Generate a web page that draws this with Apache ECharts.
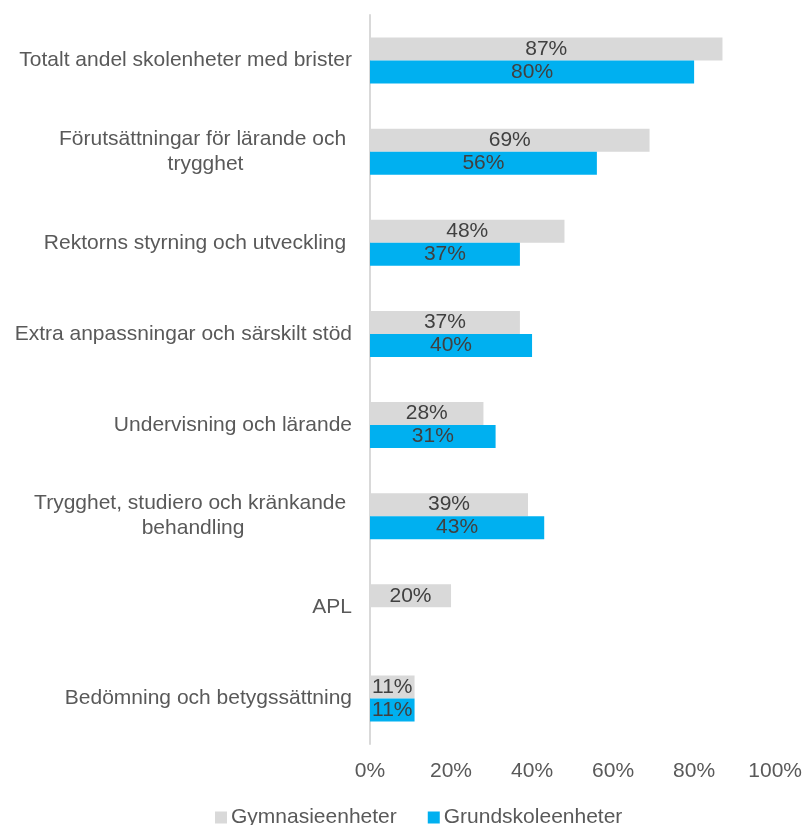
<!DOCTYPE html>
<html>
<head>
<meta charset="utf-8">
<script src="https://cdn.jsdelivr.net/npm/echarts@6/dist/echarts.min.js"></script>
<style>
  html, body { margin: 0; padding: 0; background: #fff; }
  #chart { width: 805px; height: 825px; }
</style>
</head>
<body>
<div id="chart"></div>
<script>
// categories top to bottom, multi-line ones split with \n
const categories = [
  'Totalt andel skolenheter med brister',
  'Förutsättningar för lärande och \ntrygghet',
  'Rektorns styrning och utveckling ',
  'Extra anpassningar och särskilt stöd',
  'Undervisning och lärande',
  'Trygghet, studiero och kränkande \nbehandling',
  'APL',
  'Bedömning och betygssättning'
]
const gymnasie = [87, 69, 48, 37, 28, 39, 20, 11]
const grundskole = [80, 56, 37, 40, 31, 43, null, 11]
const xTicks = [0, 20, 40, 60, 80, 100]

const textColor = '#404040'
const greyText = '#595959'
const fontFamily = 'Liberation Sans, Arial, sans-serif'
const fs = 21

const chart = echarts.init(document.getElementById('chart'))

const barLabel = {
  show: true,
  position: 'inside',
  color: textColor,
  fontSize: fs,
  fontFamily: fontFamily,
  formatter: p => p.value + '%'
}

chart.setOption({
  animation: false,
  textStyle: { fontFamily: fontFamily },
  grid: { left: 370, right: 29, top: 15, bottom: 81 },
  legend: {
    top: 802,
    left: 210,
    itemWidth: 12,
    itemHeight: 12,
    itemGap: 31,
    icon: 'rect',
    textStyle: { fontSize: fs, color: greyText, padding: [0, 0, 0, -1] },
    data: ['Gymnasieenheter', 'Grundskoleenheter']
  },
  xAxis: {
    type: 'value',
    min: xTicks[0],
    max: xTicks[xTicks.length - 1],
    interval: 20,
    axisLine: { show: false },
    axisTick: { show: false },
    splitLine: { show: false },
    axisLabel: {
      fontSize: fs,
      color: greyText,
      margin: 17,
      formatter: v => v + '%'
    }
  },
  yAxis: {
    type: 'category',
    inverse: true,
    data: categories,
    axisLine: { show: true, lineStyle: { color: '#d9d9d9', width: 2 } },
    axisTick: { show: false },
    axisLabel: {
      fontSize: fs,
      color: greyText,
      margin: 18,
      lineHeight: 25,
      formatter: v => v.split('\n').map(s => '{c|' + s + '}').join('\n'),
      rich: {
        c: { align: 'center', fontSize: fs, color: greyText, lineHeight: 25 }
      }
    }
  },
  series: [
    {
      name: 'Gymnasieenheter',
      type: 'bar',
      data: gymnasie,
      barWidth: 23,
      barGap: '0%',
      itemStyle: { color: '#d9d9d9' },
      label: barLabel
    },
    {
      name: 'Grundskoleenheter',
      type: 'bar',
      data: grundskole,
      barWidth: 23,
      itemStyle: { color: '#00b0f0' },
      label: barLabel
    }
  ]
})
</script>
</body>
</html>
